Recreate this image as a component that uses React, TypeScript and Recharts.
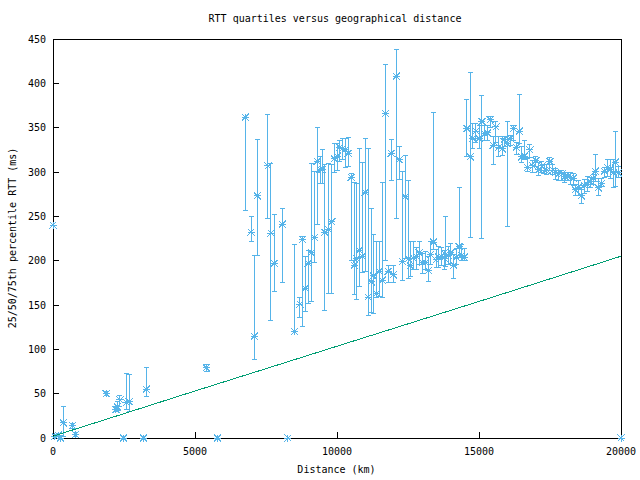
import { ScatterChart, Scatter, XAxis, YAxis, ErrorBar } from 'recharts';

// distance (km), median / 25th / 75th percentile RTT (ms)
const distKm = [
  0, 70, 188, 270, 364, 681, 798, 1877, 2218, 2265, 2359, 2476, 2594, 2688, 3193, 3286,
  5399, 5786, 6771, 6972, 7088, 7194, 7570, 7676, 7793, 8075, 8274, 8497, 8697, 8780,
  8885, 8990, 9096, 9201, 9307, 9412, 9482, 9577, 9700, 9812, 9906, 10011, 10094, 10187,
  10292, 10398, 10503, 10609, 10693, 10785, 10890, 10996, 11101, 11207, 11278, 11383,
  11489, 11594, 11700, 11806, 11911, 11982, 12087, 12193, 12298, 12404, 12510, 12580,
  12686, 12792, 12897, 13017, 13122, 13216, 13299, 13393, 13486, 13580, 13674, 13768,
  13826, 13920, 14014, 14108, 14202, 14296, 14390, 14483, 14577, 14694, 14788, 14894,
  15000, 15105, 15199, 15293, 15398, 15504, 15598, 15704, 15820, 15890, 15996, 16101,
  16207, 16313, 16418, 16501, 16607, 16700, 16795, 16901, 17006, 17112, 17217, 17323,
  17393, 17499, 17604, 17710, 17815, 17921, 18027, 18132, 18238, 18320, 18390, 18496,
  18601, 18707, 18813, 18918, 19024, 19094, 19200, 19306, 19411, 19517, 19622, 19728,
  19798, 19904, 20000,
];
const medianRtt = [
  240, 2, 3, 0, 17, 14, 4, 50, 32, 35, 43, 0, 40, 41, 0, 55,
  79, 0, 362, 232, 115, 273, 307, 231, 197, 241, 0, 120, 151, 224,
  169, 197, 209, 226, 312, 303, 303, 232, 235, 244, 315, 318, 328, 326,
  325, 321, 294, 195, 202, 212, 205, 277, 159, 176, 183, 163,
  188, 178, 366, 188, 321, 184, 408, 314, 199, 272, 202, 194,
  203, 205, 209, 198, 198, 189, 207, 221, 201, 204, 205, 203,
  207, 206, 209, 195, 204, 216, 206, 204, 349, 317, 338, 346,
  338, 357, 343, 344, 359, 330, 351, 328, 326, 337, 332, 338,
  349, 328, 346, 317, 318, 305, 325, 307, 313, 303, 307, 302,
  302, 312, 302, 300, 298, 298, 295, 295, 294, 293, 280, 283,
  273, 285, 286, 289, 293, 301, 282, 287, 301, 305, 303, 299,
  311, 299, 0,
];
const lowRtt = [
  240, 0, 0, 0, 2, 11, 2, 48, 30, 31, 35, 0, 32, 30, 0, 47,
  75, 0, 257, 222, 89, 206, 248, 133, 165, 175, 0, 120, 136, 126,
  143, 152, 154, 198, 241, 287, 287, 144, 163, 163, 299, 302, 312, 314,
  305, 306, 200, 162, 156, 171, 187, 188, 138, 141, 140, 159,
  160, 159, 200, 175, 290, 175, 247, 292, 178, 202, 180, 182,
  190, 190, 196, 186, 190, 176, 196, 213, 192, 192, 195, 190,
  193, 196, 197, 180, 196, 204, 200, 200, 317, 226, 327, 333,
  327, 225, 335, 336, 350, 308, 333, 317, 319, 329, 238, 330,
  335, 320, 332, 311, 314, 301, 316, 300, 306, 296, 300, 298,
  297, 302, 297, 292, 290, 290, 288, 290, 286, 285, 273, 274,
  265, 276, 278, 282, 286, 289, 274, 284, 294, 295, 293, 283,
  284, 294, 0,
];
const highRtt = [
  240, 4, 5, 0, 36, 16, 6, 52, 36, 41, 48, 0, 73, 72, 0, 79,
  83, 0, 362, 250, 206, 337, 365, 310, 252, 259, 0, 218, 158, 227,
  205, 212, 310, 301, 350, 317, 325, 309, 310, 309, 332, 332, 335, 338,
  338, 339, 298, 288, 287, 326, 311, 338, 326, 259, 229, 222,
  222, 288, 421, 195, 337, 195, 438, 329, 301, 319, 290, 222,
  222, 215, 222, 208, 210, 205, 222, 367, 213, 216, 215, 212,
  250, 216, 219, 207, 214, 282, 218, 214, 382, 412, 355, 355,
  352, 386, 352, 352, 363, 340, 357, 340, 338, 340, 357, 341,
  352, 333, 387, 329, 336, 315, 331, 313, 317, 311, 312, 309,
  308, 316, 308, 304, 302, 302, 300, 299, 300, 298, 286, 290,
  280, 292, 295, 294, 297, 320, 293, 293, 305, 314, 314, 314,
  346, 306, 0,
];

// reference line (fibre propagation)
const fiberKm = [0, 5000, 10000, 15000, 20000];
const fiberRtt = [2, 53, 103.5, 154, 205];

const xTicks = [0, 5000, 10000, 15000, 20000];
const yTicks = [0, 50, 100, 150, 200, 250, 300, 350, 400, 450];

const points = distKm.map((d, i) => ({
  d,
  v: medianRtt[i],
  err: [medianRtt[i] - lowRtt[i], highRtt[i] - medianRtt[i]],
}));
const fiber = fiberKm.map((d, i) => ({ d, v: fiberRtt[i] }));

const BLUE = '#56b4e9';
const GREEN = '#009e73';
const FONT = '"DejaVu Sans Mono", monospace';
const tickStyle = { fill: '#000', fontSize: 10, fontFamily: FONT };

// gnuplot point type 3: "+" and "x" overlaid
const Star = ({ cx, cy }: any) => {
  const r = 3.5;
  return (
    <g stroke={BLUE} strokeWidth={1}>
      <line x1={cx - r} y1={cy} x2={cx + r} y2={cy} />
      <line x1={cx} y1={cy - r} x2={cx} y2={cy + r} />
      <line x1={cx - r} y1={cy - r} x2={cx + r} y2={cy + r} />
      <line x1={cx - r} y1={cy + r} x2={cx + r} y2={cy - r} />
    </g>
  );
};

export default function App() {
  return (
    <div style={{ position: 'absolute', left: 0, top: 0, width: 640, height: 480, background: '#fff' }}>
      <style>{'svg line, svg path { shape-rendering: crispEdges; }'}</style>
      <div style={{ position: 'absolute', left: 0, top: 13, width: 670, textAlign: 'center', fontFamily: FONT, fontSize: 10 }}>
        RTT quartiles versus geographical distance
      </div>
      <div style={{ position: 'absolute', left: 0, top: 464, width: 673, textAlign: 'center', fontFamily: FONT, fontSize: 10 }}>
        Distance (km)
      </div>
      <div
        style={{
          position: 'absolute', left: 5, top: 238, width: 0, height: 0,
          fontFamily: FONT, fontSize: 10, whiteSpace: 'nowrap',
        }}
      >
        <div style={{ transform: 'translate(-50%, -50%) rotate(-90deg)', position: 'absolute', left: 7, top: 0 }}>
          25/50/75th percentile RTT (ms)
        </div>
      </div>
      <ScatterChart width={640} height={480} margin={{ top: 38, right: 18, bottom: 0, left: 0 }}>
        <XAxis
          xAxisId={0}
          type="number"
          dataKey="d"
          domain={[0, 20000]}
          ticks={xTicks}
          tick={tickStyle}
          stroke="#000"
          tickSize={-6}
          tickMargin={16}
          height={42}
        />
        <XAxis
          xAxisId="t"
          orientation="top"
          type="number"
          dataKey="d"
          domain={[0, 20000]}
          ticks={xTicks}
          tickFormatter={() => ''}
          stroke="#000"
          tickSize={-6}
          height={1}
        />
        <YAxis
          yAxisId={0}
          type="number"
          dataKey="v"
          domain={[0, 450]}
          ticks={yTicks}
          tick={tickStyle}
          stroke="#000"
          tickSize={-6}
          tickMargin={13}
          width={53}
        />
        <YAxis
          yAxisId="r"
          orientation="right"
          type="number"
          dataKey="v"
          domain={[0, 450]}
          ticks={yTicks}
          tickFormatter={() => ''}
          stroke="#000"
          tickSize={-6}
          width={1}
        />
        <Scatter
          data={points}
          dataKey="v"
          shape={<Star />}
          isAnimationActive={false}
        >
          <ErrorBar dataKey="err" direction="y" width={2.5} stroke={BLUE} strokeWidth={1} isAnimationActive={false} />
        </Scatter>
        <Scatter
          data={fiber}
          dataKey="v"
          line={{ stroke: GREEN, strokeWidth: 1 }}
          shape={() => <g />}
          isAnimationActive={false}
        />
      </ScatterChart>
    </div>
  );
}
